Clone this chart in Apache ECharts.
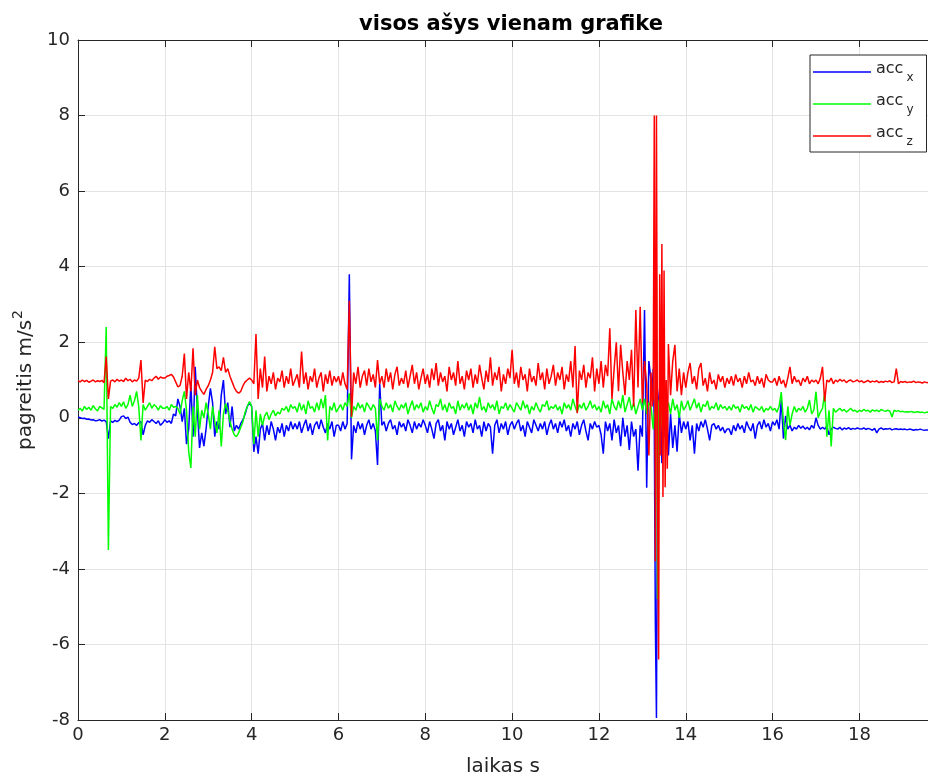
<!DOCTYPE html>
<html>
<head>
<meta charset="utf-8">
<script src="https://cdn.jsdelivr.net/npm/echarts@6/dist/echarts.min.js"></script>
<style>
html,body{margin:0;padding:0;background:#fff;overflow:hidden;}
#chart{width:928px;height:775px;}
</style>
</head>
<body>
<div id="chart"></div>
<script>
// sampling period (s) of the main arrays; sample i is at t = i*DT
const DT = 0.05;
const X_TICKS = [0, 2, 4, 6, 8, 10, 12, 14, 16, 18];
const Y_TICKS = [-8, -6, -4, -2, 0, 2, 4, 6, 8, 10];

const accX = [
0.02,0.0,-0.02,-0.01,-0.04,-0.03,-0.06,-0.05,-0.08,-0.07,-0.05,-0.09,-0.06,-0.1,-0.55,-0.08,-0.12,-0.07,-0.1,-0.06,
0.03,0.05,-0.02,0.02,-0.12,-0.18,-0.15,-0.2,-0.13,-0.1,-0.45,-0.2,-0.08,-0.12,-0.05,-0.1,-0.15,-0.08,-0.2,-0.14,
-0.05,-0.12,-0.08,-0.15,0.1,0.05,0.5,0.3,-0.1,0.25,-0.7,-0.3,0.9,-0.5,1.35,0.2,-0.8,-0.4,-0.75,-0.3,
0.3,0.78,0.4,-0.5,-0.1,-0.3,0.6,1.0,0.1,0.4,-0.25,0.3,-0.35,-0.2,-0.3,-0.15,-0.05,0.1,0.3,0.4,
0.3,-0.9,-0.5,-0.95,-0.3,-0.15,-0.6,-0.2,-0.45,-0.1,-0.3,-0.6,-0.25,-0.4,-0.15,-0.5,-0.2,-0.35,-0.1,-0.3,
-0.15,-0.3,-0.1,-0.4,-0.2,-0.05,-0.35,-0.15,-0.45,-0.2,-0.1,-0.3,-0.05,-0.25,-0.4,-0.15,-0.3,-0.1,-0.5,-0.2,
-0.2,-0.35,-0.1,-0.3,-0.15,3.8,-1.1,-0.2,-0.4,-0.1,-0.3,-0.15,-0.45,-0.2,-0.05,-0.3,-0.15,-0.35,-1.25,0.9,
-0.2,-0.1,-0.35,-0.15,-0.05,-0.3,-0.2,-0.45,-0.1,-0.25,-0.15,-0.35,-0.05,-0.2,-0.4,-0.1,-0.3,-0.15,-0.25,-0.05,
-0.2,-0.4,-0.1,-0.3,-0.55,-0.15,-0.05,-0.35,-0.2,-0.6,-0.1,-0.3,-0.15,-0.45,-0.25,-0.05,-0.35,-0.2,-0.5,-0.1,
-0.25,-0.15,-0.4,-0.05,-0.3,-0.2,-0.5,-0.1,-0.35,-0.15,-0.25,-0.95,-0.2,-0.05,-0.4,-0.15,-0.3,-0.1,-0.45,-0.2,
-0.1,-0.3,-0.15,-0.05,-0.35,-0.2,-0.5,-0.1,-0.25,-0.4,-0.05,-0.2,-0.35,-0.15,-0.3,-0.1,-0.45,-0.2,-0.05,-0.3,
-0.15,-0.4,-0.1,-0.25,-0.05,-0.35,-0.2,-0.5,-0.15,-0.3,-0.1,-0.45,-0.2,-0.05,-0.35,-0.6,-0.15,-0.3,-0.1,-0.25,
-0.2,-0.45,-0.95,-0.1,-0.35,-0.15,-0.6,-0.05,-0.4,-0.2,-0.75,0.0,-0.5,-0.2,-0.85,-0.1,-0.5,-0.3,-1.4,-0.2,
-0.5,2.85,-1.85,1.5,1.0,1.3,-5.5,-1.0,0.8,-1.2,0.5,-0.6,-1.0,0.1,-0.8,-0.2,-0.9,0.1,-0.4,-0.1,
-0.3,-0.1,-0.6,-0.2,-0.95,-0.15,-0.35,-0.1,-0.25,-0.05,-0.3,-0.6,-0.2,-0.15,-0.3,-0.2,-0.35,-0.25,-0.4,-0.3,
-0.3,-0.45,-0.2,-0.35,-0.15,-0.3,-0.2,-0.4,-0.1,-0.25,-0.35,-0.15,-0.55,-0.2,-0.1,-0.3,-0.05,-0.25,-0.15,-0.35,
-0.1,-0.2,-0.05,-0.3,0.47,-0.55,0.05,-0.3,-0.2,-0.35,-0.25,-0.3,-0.2,-0.28,-0.22,-0.3,-0.25,-0.32,-0.2,-0.28,
0.0,-0.2,-0.3,-0.25,-0.3,-0.22,-0.45,-0.3,-0.25,-0.28,-0.3,-0.25,-0.32,-0.27,-0.3,-0.26,-0.31,-0.28,-0.3,-0.27,
-0.29,-0.3,-0.27,-0.31,-0.28,-0.3,-0.33,-0.28,-0.4,-0.3,-0.27,-0.31,-0.29,-0.3,-0.28,-0.32,-0.3,-0.29,-0.31,-0.3,
-0.31,-0.3,-0.32,-0.3,-0.31,-0.33,-0.31,-0.32,-0.3,-0.32,-0.33,-0.32,-0.33
];

const accY = [
0.2,0.25,0.18,0.3,0.22,0.28,0.2,0.32,0.24,0.18,0.3,0.26,0.22,2.4,-3.5,0.3,0.25,0.35,0.28,0.4,
0.3,0.42,0.25,0.35,0.6,0.3,0.45,0.7,0.28,-0.6,0.35,0.2,0.3,0.4,0.25,0.35,0.3,0.2,0.32,0.25,
0.25,0.3,0.2,0.35,0.28,0.3,0.25,0.1,0.45,0.7,0.2,-0.9,-1.33,0.3,-0.5,0.6,-0.3,0.2,0.0,0.4,
0.1,-0.3,0.3,-0.1,-0.4,0.2,-0.76,0.1,0.38,0.2,-0.1,-0.3,-0.45,-0.5,-0.4,-0.25,-0.1,0.15,0.3,0.43,
0.3,-0.7,0.2,-0.5,0.1,-0.2,0.05,0.15,-0.05,0.1,0.2,0.05,0.15,0.1,0.25,0.2,0.3,0.15,0.35,0.25,
0.3,0.15,0.4,0.2,0.35,0.1,0.45,0.25,0.3,0.15,0.4,0.2,0.5,0.25,0.6,-0.6,0.3,0.2,0.4,0.15,
0.25,0.35,0.2,0.4,0.3,0.65,0.0,0.3,0.2,0.4,0.25,0.35,0.15,0.4,0.3,0.2,0.35,0.25,-0.6,0.5,
0.3,0.2,0.4,0.25,0.35,0.15,0.45,0.3,0.2,0.35,0.25,0.4,0.1,0.3,0.45,0.2,0.35,0.25,0.4,0.15,
0.3,0.2,0.45,0.25,0.1,0.35,0.3,0.5,0.2,0.35,0.15,0.4,0.25,0.3,0.1,0.45,0.2,0.35,0.25,0.4,
0.2,0.35,0.1,0.4,0.25,0.55,0.2,0.3,0.15,0.4,0.25,0.35,0.2,0.45,0.1,0.3,0.25,0.4,0.2,0.35,
0.25,0.15,0.4,0.3,0.2,0.45,0.25,0.35,0.1,0.3,0.2,0.4,0.25,0.15,0.35,0.3,0.45,0.2,0.3,0.25,
0.35,0.2,0.3,0.1,0.4,0.25,0.35,0.2,0.5,0.3,0.15,0.35,0.25,0.4,0.2,0.3,0.45,0.25,0.35,0.2,
0.3,0.15,0.45,0.25,0.35,0.1,0.5,0.3,0.2,0.45,0.25,0.6,0.15,0.35,0.55,0.2,0.4,0.1,0.3,0.5,
0.2,0.5,0.1,0.4,0.3,-0.3,0.2,-4.8,0.5,-0.2,0.3,0.0,0.4,0.1,0.5,0.2,0.35,0.0,0.45,0.2,
0.3,0.45,0.2,0.35,0.5,0.25,0.4,0.15,0.35,0.3,0.45,0.2,0.3,0.25,0.4,0.2,0.35,0.25,0.3,0.2,
0.3,0.2,0.35,0.25,0.3,0.15,0.35,0.25,0.3,0.2,0.35,0.15,0.3,0.25,0.2,0.3,0.15,0.25,0.2,0.3,
0.2,0.25,0.15,0.3,0.68,-0.1,-0.59,0.3,-0.2,0.1,0.3,0.15,0.25,0.2,0.3,0.15,0.25,0.47,0.1,0.2,
0.69,0.0,0.15,0.25,0.65,-0.5,0.2,-0.76,0.25,0.15,0.2,0.25,0.18,0.22,0.15,0.2,0.25,0.18,0.2,0.15,
0.2,0.17,0.22,0.18,0.2,0.15,0.21,0.18,0.2,0.16,0.22,0.19,0.17,0.2,0.18,0.02,0.2,0.17,0.19,0.16,
0.17,0.15,0.16,0.15,0.17,0.14,0.15,0.16,0.14,0.15,0.13,0.15,0.14
];

const accZ = [
0.98,0.95,1.0,0.96,0.99,0.94,0.97,1.0,0.95,0.98,0.96,0.99,0.93,1.62,0.5,0.97,1.0,0.95,1.02,0.97,
1.0,0.96,1.05,0.98,1.02,0.95,1.0,0.97,1.05,1.53,0.39,1.0,0.96,1.02,0.98,1.05,1.1,1.02,1.08,1.05,
1.05,1.1,1.12,1.15,1.08,0.95,0.82,0.85,1.1,1.7,0.5,1.2,0.7,1.84,0.6,1.0,0.8,0.7,0.62,0.75,
0.85,1.0,1.2,1.88,1.3,1.35,1.25,1.6,1.2,1.3,1.1,0.95,0.8,0.7,0.65,0.7,0.85,0.95,1.0,1.05,
1.0,0.9,2.22,0.5,1.3,0.8,1.62,0.7,1.1,0.9,1.2,0.75,1.05,0.95,1.25,0.8,1.1,0.9,1.3,0.85,
1.0,1.15,0.8,1.75,0.9,1.2,0.75,1.1,0.95,1.3,0.8,1.05,1.2,0.7,1.15,0.9,1.25,0.85,1.1,0.95,
1.1,0.85,1.2,0.9,0.75,3.1,0.03,1.2,0.9,1.35,0.8,1.1,1.25,0.85,1.3,0.95,1.15,0.8,1.53,0.9,
1.1,0.8,1.3,0.95,1.2,0.75,1.15,1.35,0.85,1.05,0.9,1.25,0.8,1.1,1.4,0.9,1.2,0.75,1.05,1.3,
0.9,1.15,0.8,1.3,1.0,1.45,0.85,1.2,0.95,1.1,0.7,1.35,1.0,1.2,0.85,1.5,0.9,1.1,0.75,1.25,
1.0,1.3,0.8,1.15,0.9,1.4,1.05,0.75,1.25,0.95,1.6,0.85,1.2,1.0,1.35,0.7,1.15,0.9,1.3,1.05,
1.8,0.9,1.2,0.8,1.35,1.0,1.15,0.7,1.3,0.95,1.1,0.85,1.45,1.0,1.2,0.75,1.3,0.9,1.1,1.4,
0.85,1.2,1.0,1.35,0.75,1.15,0.95,1.5,0.8,1.9,0.12,1.25,1.0,1.4,0.8,1.2,1.05,1.6,0.7,1.3,
0.9,1.5,0.8,1.4,1.1,2.37,0.5,1.3,2.0,0.7,1.93,1.2,0.6,1.5,1.0,1.8,0.3,2.85,0.8,2.94,
0.4,1.5,0.9,-1.0,1.2,0.5,-3.8,-2.0,3.8,4.6,3.9,1.0,1.95,0.6,1.5,1.93,0.7,1.3,0.6,1.2,
0.8,1.2,1.45,0.9,1.1,0.75,1.3,1.45,0.85,1.05,0.7,1.2,0.9,1.0,0.75,1.15,0.95,1.1,0.8,1.05,
0.9,1.1,0.85,1.15,0.95,1.05,0.8,1.1,0.9,1.2,0.95,1.0,0.85,1.1,0.9,1.05,0.8,1.15,1.0,0.95,
0.95,1.05,0.85,1.1,0.9,1.0,0.8,1.05,1.35,0.9,1.1,0.95,1.0,0.85,1.05,0.95,1.1,0.9,1.0,0.95,
1.0,0.9,1.05,1.35,0.43,1.0,0.95,1.05,0.9,1.0,0.95,1.02,0.97,1.0,0.93,0.98,1.0,0.95,0.97,1.0,
0.95,0.98,0.93,0.96,0.99,0.94,0.97,0.95,0.98,0.93,0.96,0.94,0.97,0.95,0.98,0.93,0.95,1.3,0.9,0.96,
0.94,0.96,0.93,0.95,0.94,0.97,0.93,0.95,0.94,0.92,0.95,0.93,0.94
];

// extra samples inside the impact burst, at t = BURST_T0 + k*DT
const BURST_T0 = 13.225;
const burstX = [0.6, -0.2, -7.95, 0.5, -0.3, 0.3, -0.5, 0.2];
const burstY = [0.3, 0.1, 3.7, 0.4, 0.2, 0.5, 0.1, 0.3];
const burstZ = [0.3, 8.0, 8.0, -6.4, -1.0, -2.1, -1.84, -1.35];

const SERIES_NAMES = ['acc_x', 'acc_y', 'acc_z'];
const SERIES_COLORS = ['#0000ff', '#00ff00', '#ff0000'];

function build(main, burst) {
  const pts = main.map((v, i) => [+(i * DT).toFixed(4), v]);
  burst.forEach((v, k) => pts.push([+(BURST_T0 + k * DT).toFixed(4), v]));
  pts.sort((a, b) => a[0] - b[0]);
  return pts;
}

const TXT = '#262626';
const FONT = 'DejaVu Sans';

const chart = echarts.init(document.getElementById('chart'), null, {renderer: 'canvas'});
const dataSets = [build(accX, burstX), build(accY, burstY), build(accZ, burstZ)];

const option = {
  animation: false,
  backgroundColor: '#fff',
  title: {
    text: 'visos ašys vienam grafike',
    left: 506, top: 9, textAlign: 'center',
    textStyle: {fontFamily: FONT, fontSize: 21, fontWeight: 'bold', color: '#000'}
  },
  grid: {left: 78, top: 40, width: 850, height: 680, containLabel: false, outerBoundsMode: 'none'},
  legend: {
    left: 810, top: 55, orient: 'vertical',
    data: SERIES_NAMES,
    icon: 'rect', itemWidth: 58, itemHeight: 1.5, itemGap: 9,
    padding: [6, 13, 4, 3],
    borderColor: TXT, borderWidth: 1, backgroundColor: '#fff',
    formatter: function (n) { return '{a|acc}{s|' + n.split('_')[1] + '}'; },
    textStyle: {
      fontFamily: FONT, color: TXT,
      rich: {
        a: {fontFamily: FONT, fontSize: 16, color: TXT, padding: [0, 0, 6, 0]},
        s: {fontFamily: FONT, fontSize: 12, color: TXT, padding: [12, 0, 0, 3]}
      }
    }
  },
  xAxis: [{
    type: 'value', min: 0, max: 19.58, interval: 2,
    name: 'laikas s', nameLocation: 'middle', nameGap: 37,
    nameTextStyle: {fontFamily: FONT, fontSize: 20, color: TXT},
    axisLine: {show: true, onZero: false, lineStyle: {color: TXT, width: 1}},
    axisTick: {show: true, inside: true, length: 7, lineStyle: {color: TXT}},
    axisLabel: {fontFamily: FONT, fontSize: 18, color: TXT, margin: 6,
      formatter: v => (X_TICKS.indexOf(v) >= 0 ? String(v) : '')},
    splitLine: {show: true, lineStyle: {color: '#e3e3e3', width: 1}}
  }, {
    type: 'value', position: 'top', min: 0, max: 19.58, interval: 2,
    axisLine: {show: true, onZero: false, lineStyle: {color: TXT, width: 1}},
    axisTick: {show: true, inside: true, length: 7, lineStyle: {color: TXT}},
    axisLabel: {show: false}, splitLine: {show: false}
  }],
  yAxis: {
    type: 'value', min: -8, max: 10, interval: 2,
    name: '{a|pagreitis m/s}{b|2}', nameLocation: 'middle', nameGap: 36, nameRotate: 90,
    nameTextStyle: {fontFamily: FONT, fontSize: 20, color: TXT,
      rich: {
        a: {fontFamily: FONT, fontSize: 20, color: TXT, padding: [8, 0, 0, 0]},
        b: {fontFamily: FONT, fontSize: 14, color: TXT, padding: [0, 0, 8, 1]}
      }},
    axisLine: {show: true, onZero: false, lineStyle: {color: TXT, width: 1}},
    axisTick: {show: true, inside: true, length: 7, lineStyle: {color: TXT}},
    axisLabel: {fontFamily: FONT, fontSize: 18, color: TXT, margin: 8,
      formatter: v => (Y_TICKS.indexOf(v) >= 0 ? String(v) : '')},
    splitLine: {show: true, lineStyle: {color: '#e3e3e3', width: 1}}
  },
  series: SERIES_NAMES.map((n, i) => ({
    name: n, type: 'line', xAxisIndex: 0,
    data: dataSets[i],
    showSymbol: false, symbol: 'none', sampling: null,
    color: SERIES_COLORS[i],
    lineStyle: {color: SERIES_COLORS[i], width: 1.5},
    clip: true, z: 2 + i
  }))
};
chart.setOption(option);
</script>
</body>
</html>
